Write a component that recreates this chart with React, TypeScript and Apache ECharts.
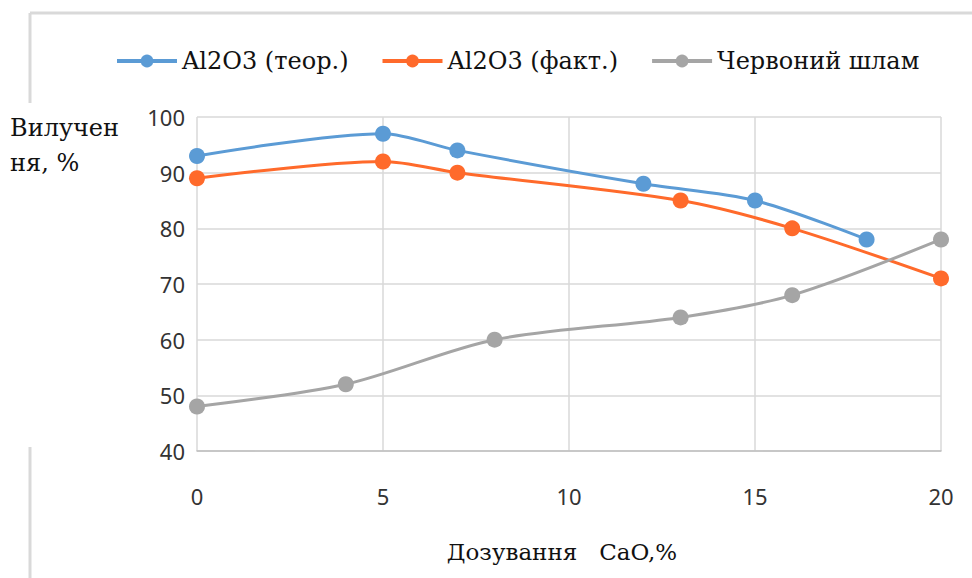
import React, { useEffect, useRef } from "react";
import * as echarts from "echarts";

// CaO dosage (%) and extraction values (%)
const theorX = [0, 5, 7, 12, 15, 18];
const theorY = [93, 97, 94, 88, 85, 78];
const factX = [0, 5, 7, 13, 16, 20];
const factY = [89, 92, 90, 85, 80, 71];
const mudX = [0, 4, 8, 13, 16, 20];
const mudY = [48, 52, 60, 64, 68, 78];

const seriesNames = ["Al2O3 (теор.)", "Al2O3 (факт.)", "Червоний шлам"];
const seriesColors = ["#5B9BD5", "#FF6A2B", "#A5A5A5"];

const xTicks = { min: 0, max: 20, interval: 5 };
const yTicks = { min: 40, max: 100, interval: 10 };

const serif = "'DejaVu Serif'";
const sans = "Noto Sans";

const pairs = (xs: number[], ys: number[]) => xs.map((x, i) => [x, ys[i]]);

export default function App() {
  const ref = useRef<HTMLDivElement>(null);

  useEffect(() => {
    document.body.style.margin = "0";
    if (!ref.current) return;
    const chart = echarts.init(ref.current, null, { renderer: "svg" });
    const datasets = [pairs(theorX, theorY), pairs(factX, factY), pairs(mudX, mudY)];

    chart.setOption({
      animation: false,
      backgroundColor: "#ffffff",
      grid: { left: 197, right: 31, top: 117, bottom: 127 },
      legend: {
        left: 110,
        top: 44,
        itemWidth: 60,
        itemHeight: 16,
        itemGap: 32,
        lineStyle: { width: 4 },
        textStyle: { fontFamily: "DejaVu Serif", fontSize: 24, color: "#111" },
        data: seriesNames,
      },
      xAxis: {
        type: "value",
        min: xTicks.min,
        max: xTicks.max,
        interval: xTicks.interval,
        axisLine: { show: true, lineStyle: { color: "#BFBFBF", width: 1.5 } },
        axisTick: { show: false },
        axisLabel: { fontFamily: sans, fontSize: 22, color: "#333", margin: 34 },
        splitLine: { show: true, lineStyle: { color: "#D9D9D9", width: 1.5 } },
      },
      yAxis: {
        type: "value",
        min: yTicks.min,
        max: yTicks.max,
        interval: yTicks.interval,
        axisLine: { show: false },
        axisTick: { show: false },
        axisLabel: { fontFamily: sans, fontSize: 22, color: "#333", margin: 12 },
        splitLine: { show: true, lineStyle: { color: "#D9D9D9", width: 1.5 } },
      },
      series: seriesNames.map((name, i) => ({
        name,
        type: "line",
        data: datasets[i],
        smooth: 0.3,
        symbol: "circle",
        symbolSize: 16,
        color: seriesColors[i],
        lineStyle: { width: 3, color: seriesColors[i] },
        itemStyle: { color: seriesColors[i] },
      })),
      graphic: [
        {
          type: "line",
          shape: { x1: 30, y1: 13, x2: 972, y2: 13 },
          style: { stroke: "#D9D9D9", lineWidth: 3 },
        },
        {
          type: "line",
          shape: { x1: 30, y1: 13, x2: 30, y2: 103 },
          style: { stroke: "#D9D9D9", lineWidth: 3 },
        },
        {
          type: "line",
          shape: { x1: 30, y1: 447, x2: 30, y2: 578 },
          style: { stroke: "#D9D9D9", lineWidth: 3 },
        },
        {
          type: "text",
          left: 10,
          top: 110,
          style: {
            text: "Вилучен\nня, %",
            font: "24px " + serif,
            lineHeight: 35,
            fill: "#111",
          },
        },
        {
          type: "text",
          x: 562,
          y: 552,
          style: {
            text: "Дозування\u00A0\u00A0\u00A0CaO,%",
            font: "23px " + serif,
            fill: "#111",
            align: "center",
            verticalAlign: "middle",
          },
        },
      ],
    });

    return () => chart.dispose();
  }, []);

  return <div ref={ref} style={{ width: 972, height: 578 }} />;
}
